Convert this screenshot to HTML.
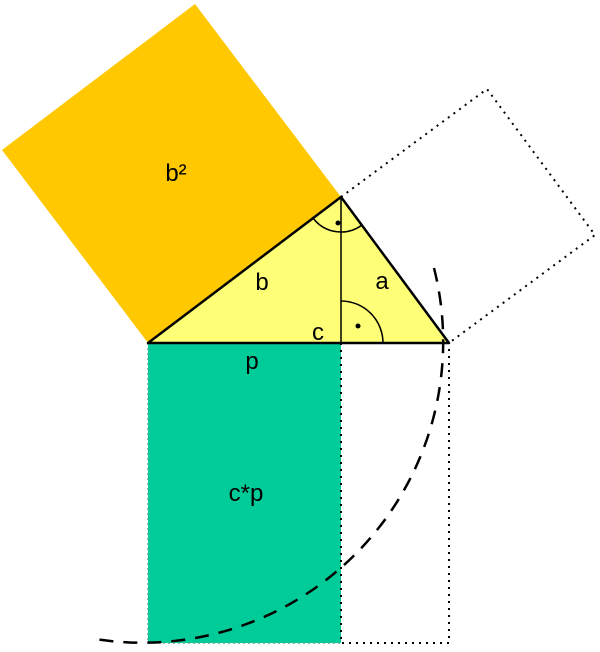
<!DOCTYPE html>
<html><head><meta charset="utf-8"><style>
html,body{margin:0;padding:0;background:#fff;}
svg{display:block;}
text{font-family:"Liberation Sans",sans-serif;font-size:24px;fill:#000;}
</style></head><body>
<svg width="600" height="652" viewBox="0 0 600 652" xmlns="http://www.w3.org/2000/svg">
<polygon points="148,343 341,197 195,4 2,150" fill="#ffc800"/>
<rect x="148" y="343" width="193" height="300" fill="#00cc99"/>
<polygon points="148,343 449,343 341,197" fill="#ffff77"/>
<polygon points="341,197 487,89 595,235 449,343" fill="none" stroke="#000" stroke-width="2" stroke-dasharray="2,5"/>
<polyline points="341,343 341,643 449,643 449,343" fill="none" stroke="#000" stroke-width="2" stroke-dasharray="2,5"/>
<polyline points="148,343 148,643 341,643" fill="none" stroke="#5a9" stroke-width="1.5" stroke-dasharray="2,3"/>
<polygon points="148,343 449,343 341,197" fill="none" stroke="#000" stroke-width="2.5" stroke-linejoin="round"/>
<line x1="341" y1="197" x2="341" y2="343" stroke="#000" stroke-width="1.5"/>
<path d="M313,218 A35,35 0 0 0 362,225" fill="none" stroke="#000" stroke-width="1.5"/>
<path d="M341,301 A42,42 0 0 1 383,343" fill="none" stroke="#000" stroke-width="1.5"/>
<circle cx="338" cy="223" r="2.5"/>
<circle cx="358" cy="326" r="2.5"/>
<path d="M434,268 A301,301 0 0 1 95,639" fill="none" stroke="#000" stroke-width="2.5" stroke-dasharray="14,10"/>
<text x="176" y="181" text-anchor="middle">b²</text>
<text x="262" y="290" text-anchor="middle">b</text>
<text x="382" y="289" text-anchor="middle">a</text>
<text x="318" y="340" text-anchor="middle">c</text>
<text x="252" y="369" text-anchor="middle">p</text>
<text x="246" y="501" text-anchor="middle">c*p</text>
</svg>
</body></html>
